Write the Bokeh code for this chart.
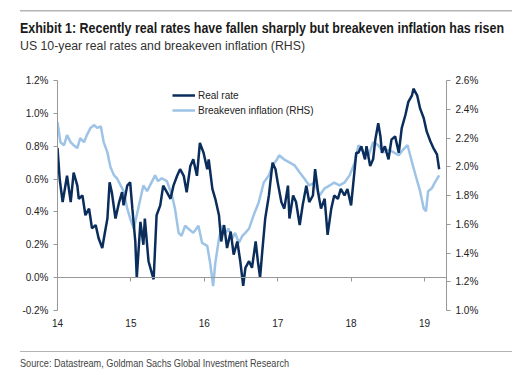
from bokeh.plotting import figure
from bokeh.layouts import column
from bokeh.models import (Range1d, LinearAxis, FixedTicker, PrintfTickFormatter,
                          Legend, LegendItem, Div)
from bokeh.embed import file_html
from bokeh.resources import INLINE

# ---------------- data ----------------
real_t = [2014.00, 2014.03, 2014.07, 2014.13, 2014.18, 2014.22, 2014.27, 2014.29, 2014.34, 2014.38,
          2014.43, 2014.47, 2014.52, 2014.56, 2014.61, 2014.64, 2014.68, 2014.71, 2014.74, 2014.79,
          2014.84, 2014.88, 2014.90, 2014.95, 2014.99, 2015.02, 2015.06, 2015.08, 2015.13, 2015.17,
          2015.19, 2015.24, 2015.29, 2015.31, 2015.35, 2015.40, 2015.44, 2015.49, 2015.54, 2015.58,
          2015.63, 2015.67, 2015.72, 2015.76, 2015.81, 2015.85, 2015.90, 2015.94, 2015.99, 2016.04,
          2016.06, 2016.11, 2016.15, 2016.20, 2016.23, 2016.27, 2016.31, 2016.36, 2016.40, 2016.45,
          2016.49, 2016.53, 2016.56, 2016.61, 2016.65, 2016.70, 2016.73, 2016.76, 2016.79, 2016.83,
          2016.88, 2016.93, 2016.97, 2017.00, 2017.05, 2017.09, 2017.14, 2017.16, 2017.21, 2017.25,
          2017.30, 2017.34, 2017.39, 2017.43, 2017.48, 2017.51, 2017.55, 2017.59, 2017.64, 2017.68,
          2017.73, 2017.77, 2017.82, 2017.86, 2017.91, 2017.95, 2018.00, 2018.04, 2018.07, 2018.10,
          2018.14, 2018.19, 2018.21, 2018.26, 2018.30, 2018.33, 2018.37, 2018.40, 2018.42, 2018.46,
          2018.51, 2018.55, 2018.60, 2018.65, 2018.69, 2018.74, 2018.78, 2018.83, 2018.85, 2018.90,
          2018.94, 2018.99, 2019.03, 2019.08, 2019.12, 2019.17, 2019.20]
real_v = [0.79, 0.60, 0.46, 0.62, 0.46, 0.64, 0.56, 0.48, 0.50, 0.38,
          0.42, 0.30, 0.32, 0.24, 0.18, 0.26, 0.36, 0.58, 0.52, 0.36,
          0.46, 0.52, 0.44, 0.56, 0.58, 0.42, 0.22, 0.00, 0.34, 0.20,
          0.36, 0.10, 0.02, -0.01, 0.38, 0.44, 0.56, 0.52, 0.48, 0.56,
          0.62, 0.66, 0.62, 0.52, 0.68, 0.72, 0.62, 0.82, 0.76, 0.66,
          0.72, 0.54, 0.48, 0.38, 0.22, 0.32, 0.18, 0.28, 0.14, 0.22,
          0.10, -0.05, 0.06, 0.10, 0.06, 0.22, 0.10, 0.00, 0.16, 0.36,
          0.50, 0.70, 0.66, 0.58, 0.46, 0.42, 0.56, 0.36, 0.50, 0.46,
          0.32, 0.44, 0.56, 0.46, 0.50, 0.66, 0.52, 0.42, 0.48, 0.26,
          0.42, 0.50, 0.48, 0.54, 0.50, 0.54, 0.44, 0.62, 0.76, 0.76,
          0.80, 0.72, 0.80, 0.68, 0.72, 0.84, 0.94, 0.86, 0.76, 0.80,
          0.72, 0.84, 0.86, 0.76, 0.91, 0.99, 1.07, 1.11, 1.15, 1.11,
          1.03, 0.97, 0.89, 0.83, 0.79, 0.75, 0.66]

be_t = [2014.00, 2014.04, 2014.09, 2014.13, 2014.18, 2014.22, 2014.27, 2014.31, 2014.36, 2014.40,
        2014.45, 2014.50, 2014.54, 2014.59, 2014.63, 2014.68, 2014.72, 2014.77, 2014.81, 2014.86,
        2014.90, 2014.95, 2014.99, 2015.04, 2015.10, 2015.17, 2015.22, 2015.26, 2015.33, 2015.37,
        2015.42, 2015.49, 2015.56, 2015.60, 2015.65, 2015.69, 2015.74, 2015.78, 2015.85, 2015.92,
        2015.97, 2016.04, 2016.08, 2016.12, 2016.15, 2016.20, 2016.24, 2016.29, 2016.33, 2016.38,
        2016.42, 2016.47, 2016.52, 2016.56, 2016.61, 2016.67, 2016.74, 2016.81, 2016.88, 2016.93,
        2016.99, 2017.02, 2017.09, 2017.16, 2017.23, 2017.30, 2017.36, 2017.43, 2017.50, 2017.57,
        2017.64, 2017.71, 2017.77, 2017.84, 2017.91, 2017.98, 2018.05, 2018.10, 2018.17, 2018.24,
        2018.30, 2018.37, 2018.44, 2018.51, 2018.58, 2018.65, 2018.71, 2018.77, 2018.83, 2018.89,
        2018.94, 2018.99, 2019.02, 2019.05, 2019.10, 2019.14, 2019.20]
be_v = [2.31, 2.17, 2.15, 2.22, 2.17, 2.15, 2.13, 2.20, 2.17, 2.22,
        2.27, 2.29, 2.27, 2.28, 2.17, 2.10, 2.00, 1.94, 1.92, 1.87,
        1.83, 1.71, 1.64, 1.57, 1.71, 1.87, 1.83, 1.87, 1.94, 1.90,
        1.92, 1.90, 1.80, 1.71, 1.54, 1.52, 1.59, 1.57, 1.54, 1.59,
        1.47, 1.45, 1.33, 1.17, 1.33, 1.50, 1.59, 1.54, 1.57, 1.50,
        1.54, 1.47, 1.52, 1.54, 1.57, 1.66, 1.75, 1.89, 1.94, 2.01,
        2.05, 2.08, 2.05, 2.03, 2.01, 1.96, 1.92, 1.87, 1.89, 1.80,
        1.85, 1.87, 1.89, 1.87, 1.89, 1.94, 2.03, 2.15, 2.10, 2.08,
        2.17, 2.15, 2.10, 2.12, 2.10, 2.08, 2.12, 2.15, 2.03, 1.92,
        1.83, 1.71, 1.69, 1.83, 1.85, 1.89, 1.94]

x_ticks = [2014, 2015, 2016, 2017, 2018, 2019]
x_tick_labels = ["14", "15", "16", "17", "18", "19"]
left_ticks = [-0.2, 0.0, 0.2, 0.4, 0.6, 0.8, 1.0, 1.2]
right_ticks = [1.0, 1.2, 1.4, 1.6, 1.8, 2.0, 2.2, 2.4, 2.6]

title_text = "Exhibit 1: Recently real rates have fallen sharply but breakeven inflation has risen"
subtitle_text = "US 10-year real rates and breakeven inflation (RHS)"
source_text = "Source: Datastream, Goldman Sachs Global Investment Research"

# ---------------- layout ----------------
W = 522
TOP_H = 60          # header block (rule, title, subtitle)
FIG_H = 286         # chart block
BOT_H = 375 - TOP_H - FIG_H
FL, FR = 57, 446            # frame left/right (canvas px)
FT, FB = 80, 310            # frame top/bottom (canvas px)
DARK = "#0b2d5c"
LIGHT = "#9dc3e6"
AXC = "#999999"
TXT = "#222222"
RULE = "#b4b4b4"
SANS = "'Liberation Sans', Arial, sans-serif"

rule_bg = {
    "background-image": f"linear-gradient({RULE}, {RULE})",
    "background-size": "492px 1.5px",
    "background-position": "20px 9.5px",
    "background-repeat": "no-repeat",
}

header_html = f"""<div style="box-sizing:border-box;width:{W}px;height:{TOP_H}px;padding:11.5px 0 0 20px;margin:0;">
<div style="margin:8px 0 0 0;white-space:nowrap;font-family:{SANS};font-weight:bold;font-size:14px;line-height:16px;color:#1a1a1a;transform:scaleX(0.89);transform-origin:0 50%;">{title_text}</div>
<div style="margin:2px 0 0 0;white-space:nowrap;font-family:{SANS};font-size:12.3px;line-height:16px;color:#333333;">{subtitle_text}</div>
</div>"""
footer_html = f"""<div style="box-sizing:border-box;width:{W}px;height:{BOT_H}px;padding:5px 0 0 20px;margin:0;">
<div style="width:492px;height:0;border-top:1.5px solid {RULE};margin:0;padding:0;"></div>
<div style="margin:5px 0 0 0;white-space:nowrap;font-family:{SANS};font-size:10.5px;line-height:13px;color:#444444;transform:scaleX(0.87);transform-origin:0 50%;">{source_text}</div>
</div>"""

header = Div(text=header_html, width=W, height=TOP_H, margin=0, styles=rule_bg)
footer = Div(text=footer_html, width=W, height=BOT_H, margin=0)

p = figure(width=W, height=FIG_H, output_backend="svg", toolbar_location=None,
           x_range=Range1d(2014.0, 2019.30), y_range=Range1d(-0.2, 1.2),
           min_border_left=FL, min_border_right=W - FR, min_border_top=FT - TOP_H,
           min_border_bottom=TOP_H + FIG_H - FB, margin=0)
p.outline_line_color = None
p.grid.visible = False
p.background_fill_color = "white"
p.border_fill_color = "white"

p.extra_y_ranges = {"be": Range1d(1.0, 2.6)}

# left axis
ya = p.yaxis[0]
ya.ticker = FixedTicker(ticks=left_ticks)
ya.formatter = PrintfTickFormatter(format="%.1f%%")
ya.axis_line_color = AXC
ya.major_tick_line_color = AXC
ya.major_tick_out = 4
ya.major_tick_in = 0
ya.minor_tick_line_color = None
ya.major_label_standoff = 5
ya.major_label_text_font = "Liberation Sans"
ya.major_label_text_font_size = "10px"
ya.major_label_text_color = TXT

# right axis
ra = LinearAxis(y_range_name="be")
ra.ticker = FixedTicker(ticks=right_ticks)
ra.formatter = PrintfTickFormatter(format="%.1f%%")
ra.axis_line_color = AXC
ra.major_tick_line_color = AXC
ra.major_tick_out = 4
ra.major_tick_in = 0
ra.minor_tick_line_color = None
ra.major_label_standoff = 5
ra.major_label_text_font = "Liberation Sans"
ra.major_label_text_font_size = "10px"
ra.major_label_text_color = TXT
p.add_layout(ra, "right")

# bottom label axis (no line)
xa = p.xaxis[0]
xa.ticker = FixedTicker(ticks=x_ticks)
xa.major_label_overrides = {t: l for t, l in zip(x_ticks, x_tick_labels)}
xa.axis_line_color = None
xa.major_tick_line_color = None
xa.minor_tick_line_color = None
xa.major_label_standoff = 2
xa.major_label_text_font = "Liberation Sans"
xa.major_label_text_font_size = "10px"
xa.major_label_text_color = TXT

# zero line axis with ticks (no labels)
za = LinearAxis(fixed_location=0)
za.ticker = FixedTicker(ticks=x_ticks)
za.major_label_overrides = {t: "" for t in x_ticks}
za.axis_line_color = AXC
za.major_tick_line_color = AXC
za.major_tick_out = 4
za.major_tick_in = 0
za.major_label_standoff = 0
za.minor_tick_line_color = None
p.add_layout(za, "below")

# lines
r2 = p.line(be_t, be_v, y_range_name="be", line_color=LIGHT, line_width=2.5)
r1 = p.line(real_t, real_v, line_color=DARK, line_width=2.5)

legend = Legend(items=[LegendItem(label="Real rate", renderers=[r1]),
                       LegendItem(label="Breakeven inflation (RHS)", renderers=[r2])],
                location=(172 - FL, FB - 116), orientation="vertical",
                padding=0, margin=0, spacing=3, label_height=12, glyph_height=12,
                glyph_width=23, label_standoff=3,
                border_line_color=None, background_fill_alpha=0,
                label_text_font="Liberation Sans", label_text_font_size="10px",
                label_text_color=TXT)
p.add_layout(legend)

layout = column(header, p, footer, spacing=0, margin=0)
open("out.html", "w").write(file_html(layout, INLINE))
